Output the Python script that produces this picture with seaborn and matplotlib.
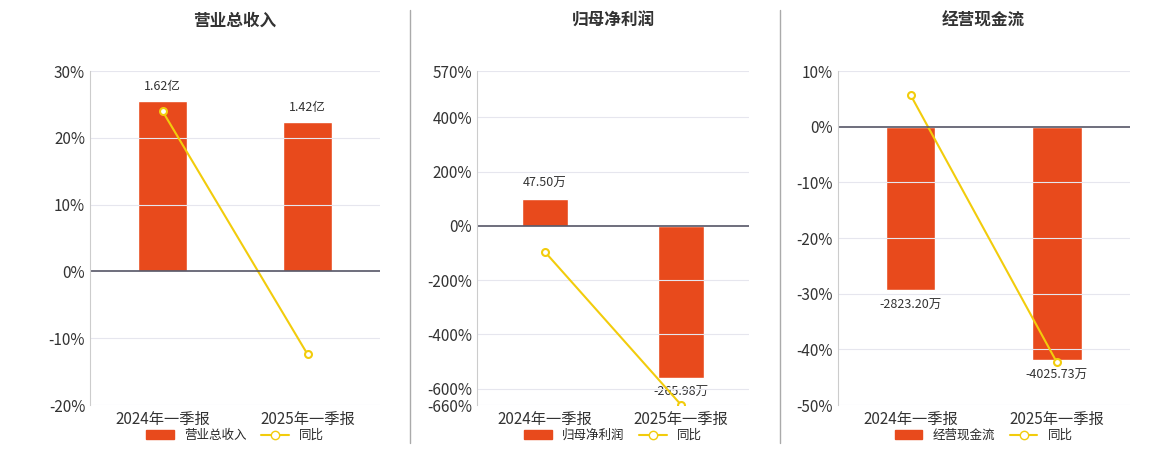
import matplotlib
matplotlib.use("Agg")
import matplotlib.pyplot as plt
import seaborn as sns
import pandas as pd
from matplotlib.lines import Line2D
from matplotlib.patches import Patch

sns.set_style("white")
plt.rcParams['font.family'] = ['Noto Sans CJK SC', 'DejaVu Sans']

categories = ["2024年一季报", "2025年一季报"]
titles = ["营业总收入", "归母净利润", "经营现金流"]
bar_names = ["营业总收入", "归母净利润", "经营现金流"]
bar_values = [[1.62, 1.42], [47.50, -265.98], [-2823.20, -4025.73]]
bar_labels = [["1.62亿", "1.42亿"], ["47.50万", "-265.98万"], ["-2823.20万", "-4025.73万"]]
yoy = [[24.0, -12.4], [-96.0, -660.0], [5.7, -42.3]]
yticks = [[30, 20, 10, 0, -10, -20], [570, 400, 200, 0, -200, -400, -600, -660], [10, 0, -10, -20, -30, -40, -50]]
# scale: bar value per 1% of the percent axis
scales = [1.62 / 25.5, 47.5 / 100.0, 2823.2 / 29.4]

BAR = "#E84A1C"
LINE = "#F2CC0C"

fig = plt.figure(figsize=(11.6, 4.5), dpi=100)
positions = [(0.0776, 0.25), (0.411, 0.235), (0.722, 0.252)]
for i in range(3):
    l, w = positions[i]
    ax = fig.add_axes([l, 0.1, w, 0.742])
    axb = ax.twinx()
    lo, hi = min(yticks[i]), max(yticks[i])
    ax.set_ylim(lo, hi)
    axb.set_ylim(lo * scales[i], hi * scales[i])
    df = pd.DataFrame({"cat": categories, "v": bar_values[i]})
    sns.barplot(data=df, x="cat", y="v", ax=axb, color=BAR, width=0.34, saturation=1)
    for j, p in enumerate(axb.patches):
        v = bar_values[i][j]
        off = 0.025 * (hi - lo) * scales[i]
        axb.text(p.get_x() + p.get_width() / 2, v + (off if v >= 0 else -off), bar_labels[i][j],
                 ha="center", va="bottom" if v >= 0 else "top", fontsize=9, color="#333333")
    axb.set_yticks([])
    axb.set_ylabel("")
    ax.set_zorder(2); ax.patch.set_visible(False)
    sns.lineplot(x=[0, 1], y=yoy[i], ax=ax, color=LINE, lw=1.5, marker="o",
                 markersize=5, markerfacecolor="white", markeredgecolor=LINE, markeredgewidth=1.5)
    ax.set_xlim(-0.5, 1.5)
    axb.set_xlim(-0.5, 1.5)
    ax.set_yticks(yticks[i])
    ax.set_yticklabels([f"{t}%" for t in yticks[i]], fontsize=11, color="#333333")
    ax.set_xticks([0, 1])
    ax.set_xticklabels(categories, fontsize=11, color="#333333")
    axb.set_xlabel(""); ax.set_xlabel("")
    axb.tick_params(axis="x", length=0, labelbottom=False)
    for t in yticks[i]:
        if t != 0:
            ax.axhline(t, color="#E6E6EE", lw=0.8, zorder=0)
    ax.axhline(0, color="#555566", lw=1.2)
    ax.tick_params(axis="x", length=0, pad=4)
    ax.tick_params(axis="y", length=0)
    for s in ["top", "right", "bottom"]:
        ax.spines[s].set_visible(False); axb.spines[s].set_visible(False)
    axb.spines["left"].set_visible(False)
    ax.spines["left"].set_color("#CCCCCC")
    ax.set_title(titles[i], fontsize=12, fontweight="bold", color="#333333", y=1.11)
    handles = [Patch(color=BAR, label=bar_names[i]),
               Line2D([], [], color=LINE, marker="o", markerfacecolor="white", lw=1.5, label="同比")]
    fig.legend(handles=handles, loc="center", bbox_to_anchor=(l + w / 2, 0.032), ncol=2,
               frameon=False, fontsize=9, handlelength=2.2, columnspacing=1.2)

for x in [410 / 1160, 780 / 1160]:
    fig.add_artist(Line2D([x, x], [0.015, 0.978], color="#AAAAAA", lw=1, transform=fig.transFigure))

fig.savefig("out.png", dpi=100)
